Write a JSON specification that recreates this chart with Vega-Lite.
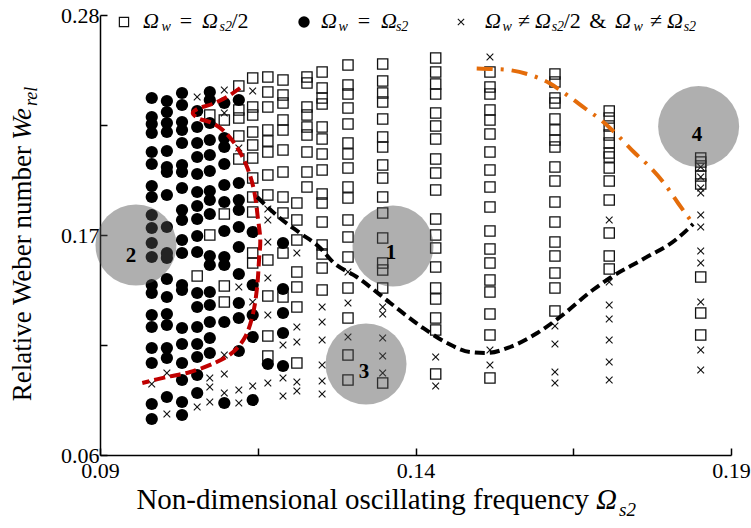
{
"$schema":"https://vega.github.io/schema/vega-lite/v6.json",
"width":631,"height":440,
"autosize":"none",
"padding":{"left":100,"top":15,"right":20,"bottom":73},
"background":"white",
"config":{"view":{"stroke":null},"font":"Liberation Serif"},
"datasets":{
"pts":[
{"x":0.0982,"y":0.2385,"t":"c"},{"x":0.0982,"y":0.229,"t":"c"},{"x":0.0982,"y":0.2255,"t":"c"},{"x":0.0982,"y":0.221,"t":"c"},{"x":0.0982,"y":0.2115,"t":"c"},{"x":0.0982,"y":0.2055,"t":"c"},{"x":0.0982,"y":0.1945,"t":"c"},{"x":0.0982,"y":0.189,"t":"c"},{"x":0.0982,"y":0.18,"t":"c"},{"x":0.0982,"y":0.1735,"t":"c"},{"x":0.0982,"y":0.166,"t":"c"},{"x":0.0982,"y":0.159,"t":"c"},{"x":0.0982,"y":0.145,"t":"c"},{"x":0.0982,"y":0.141,"t":"c"},{"x":0.0982,"y":0.13,"t":"c"},{"x":0.0982,"y":0.124,"t":"c"},{"x":0.0982,"y":0.1135,"t":"c"},{"x":0.0982,"y":0.106,"t":"c"},{"x":0.0982,"y":0.0855,"t":"c"},{"x":0.0982,"y":0.078,"t":"c"},{"x":0.0982,"y":0.0955,"t":"x"},
{"x":0.1006,"y":0.237,"t":"c"},{"x":0.1006,"y":0.2315,"t":"c"},{"x":0.1006,"y":0.226,"t":"c"},{"x":0.1006,"y":0.2215,"t":"c"},{"x":0.1006,"y":0.212,"t":"c"},{"x":0.1006,"y":0.204,"t":"c"},{"x":0.1006,"y":0.2015,"t":"c"},{"x":0.1006,"y":0.19,"t":"c"},{"x":0.1006,"y":0.174,"t":"c"},{"x":0.1006,"y":0.161,"t":"c"},{"x":0.1006,"y":0.1585,"t":"c"},{"x":0.1006,"y":0.148,"t":"c"},{"x":0.1006,"y":0.139,"t":"c"},{"x":0.1006,"y":0.1305,"t":"c"},{"x":0.1006,"y":0.125,"t":"c"},{"x":0.1006,"y":0.1135,"t":"c"},{"x":0.1006,"y":0.1085,"t":"c"},{"x":0.1006,"y":0.089,"t":"c"},{"x":0.1006,"y":0.101,"t":"x"},{"x":0.1006,"y":0.0805,"t":"x"},
{"x":0.103,"y":0.241,"t":"c"},{"x":0.103,"y":0.235,"t":"c"},{"x":0.103,"y":0.2265,"t":"c"},{"x":0.103,"y":0.2225,"t":"c"},{"x":0.103,"y":0.216,"t":"c"},{"x":0.103,"y":0.205,"t":"c"},{"x":0.103,"y":0.2015,"t":"c"},{"x":0.103,"y":0.1935,"t":"c"},{"x":0.103,"y":0.1825,"t":"c"},{"x":0.103,"y":0.1775,"t":"c"},{"x":0.103,"y":0.1675,"t":"c"},{"x":0.103,"y":0.161,"t":"c"},{"x":0.103,"y":0.145,"t":"c"},{"x":0.103,"y":0.1425,"t":"c"},{"x":0.103,"y":0.1235,"t":"c"},{"x":0.103,"y":0.1155,"t":"c"},{"x":0.103,"y":0.106,"t":"c"},{"x":0.103,"y":0.0975,"t":"c"},{"x":0.103,"y":0.0865,"t":"c"},{"x":0.103,"y":0.08,"t":"c"},
{"x":0.1054,"y":0.232,"t":"c"},{"x":0.1054,"y":0.224,"t":"c"},{"x":0.1054,"y":0.216,"t":"c"},{"x":0.1054,"y":0.209,"t":"c"},{"x":0.1054,"y":0.2005,"t":"c"},{"x":0.1054,"y":0.1915,"t":"c"},{"x":0.1054,"y":0.1845,"t":"c"},{"x":0.1054,"y":0.178,"t":"c"},{"x":0.1054,"y":0.1695,"t":"c"},{"x":0.1054,"y":0.1615,"t":"c"},{"x":0.1054,"y":0.141,"t":"c"},{"x":0.1054,"y":0.134,"t":"c"},{"x":0.1054,"y":0.124,"t":"c"},{"x":0.1054,"y":0.1155,"t":"c"},{"x":0.1054,"y":0.109,"t":"c"},{"x":0.1054,"y":0.1,"t":"c"},{"x":0.1054,"y":0.091,"t":"c"},{"x":0.1054,"y":0.1495,"t":"s"},{"x":0.1054,"y":0.084,"t":"x"},{"x":0.1054,"y":0.239,"t":"x"},
{"x":0.1074,"y":0.2415,"t":"c"},{"x":0.1074,"y":0.2375,"t":"c"},{"x":0.1074,"y":0.226,"t":"c"},{"x":0.1074,"y":0.2175,"t":"c"},{"x":0.1074,"y":0.21,"t":"c"},{"x":0.1074,"y":0.202,"t":"c"},{"x":0.1074,"y":0.192,"t":"c"},{"x":0.1074,"y":0.1875,"t":"c"},{"x":0.1074,"y":0.1805,"t":"c"},{"x":0.1074,"y":0.1595,"t":"c"},{"x":0.1074,"y":0.155,"t":"c"},{"x":0.1074,"y":0.1415,"t":"c"},{"x":0.1074,"y":0.135,"t":"c"},{"x":0.1074,"y":0.1265,"t":"c"},{"x":0.1074,"y":0.1185,"t":"c"},{"x":0.1074,"y":0.111,"t":"c"},{"x":0.1074,"y":0.23,"t":"s"},{"x":0.1074,"y":0.17,"t":"s"},{"x":0.1074,"y":0.0985,"t":"x"},{"x":0.1074,"y":0.094,"t":"x"},{"x":0.1074,"y":0.0865,"t":"x"},
{"x":0.1097,"y":0.236,"t":"c"},{"x":0.1097,"y":0.2185,"t":"c"},{"x":0.1097,"y":0.214,"t":"c"},{"x":0.1097,"y":0.2055,"t":"c"},{"x":0.1097,"y":0.195,"t":"c"},{"x":0.1097,"y":0.1865,"t":"c"},{"x":0.1097,"y":0.172,"t":"c"},{"x":0.1097,"y":0.159,"t":"c"},{"x":0.1097,"y":0.155,"t":"c"},{"x":0.1097,"y":0.1265,"t":"c"},{"x":0.1097,"y":0.086,"t":"c"},{"x":0.1097,"y":0.2275,"t":"s"},{"x":0.1097,"y":0.1805,"t":"s"},{"x":0.1097,"y":0.1445,"t":"s"},{"x":0.1097,"y":0.1365,"t":"s"},{"x":0.1097,"y":0.2425,"t":"x"},{"x":0.1097,"y":0.231,"t":"x"},{"x":0.1097,"y":0.11,"t":"x"},{"x":0.1097,"y":0.1005,"t":"x"},{"x":0.1097,"y":0.091,"t":"x"},
{"x":0.112,"y":0.2375,"t":"c"},{"x":0.112,"y":0.196,"t":"c"},{"x":0.112,"y":0.1875,"t":"c"},{"x":0.112,"y":0.1825,"t":"c"},{"x":0.112,"y":0.174,"t":"c"},{"x":0.112,"y":0.164,"t":"c"},{"x":0.112,"y":0.1505,"t":"c"},{"x":0.112,"y":0.136,"t":"c"},{"x":0.112,"y":0.1285,"t":"c"},{"x":0.112,"y":0.112,"t":"c"},{"x":0.112,"y":0.2445,"t":"s"},{"x":0.112,"y":0.2325,"t":"s"},{"x":0.112,"y":0.2285,"t":"s"},{"x":0.112,"y":0.2195,"t":"s"},{"x":0.112,"y":0.208,"t":"s"},{"x":0.112,"y":0.2135,"t":"x"},{"x":0.112,"y":0.144,"t":"x"},{"x":0.112,"y":0.0925,"t":"x"},{"x":0.112,"y":0.086,"t":"x"},
{"x":0.1142,"y":0.2485,"t":"s"},{"x":0.1142,"y":0.234,"t":"s"},{"x":0.1142,"y":0.23,"t":"s"},{"x":0.1142,"y":0.2215,"t":"s"},{"x":0.1142,"y":0.215,"t":"s"},{"x":0.1142,"y":0.2085,"t":"s"},{"x":0.1142,"y":0.1985,"t":"s"},{"x":0.1142,"y":0.189,"t":"s"},{"x":0.1142,"y":0.1815,"t":"s"},{"x":0.1142,"y":0.161,"t":"s"},{"x":0.1142,"y":0.156,"t":"s"},{"x":0.1142,"y":0.242,"t":"x"},{"x":0.1142,"y":0.1365,"t":"x"},{"x":0.1142,"y":0.0945,"t":"x"},{"x":0.1142,"y":0.1715,"t":"c"},{"x":0.1142,"y":0.145,"t":"c"},{"x":0.1142,"y":0.13,"t":"c"},{"x":0.1142,"y":0.119,"t":"c"},{"x":0.1142,"y":0.0875,"t":"c"},
{"x":0.1166,"y":0.249,"t":"s"},{"x":0.1166,"y":0.2415,"t":"s"},{"x":0.1166,"y":0.234,"t":"s"},{"x":0.1166,"y":0.2225,"t":"s"},{"x":0.1166,"y":0.217,"t":"s"},{"x":0.1166,"y":0.2115,"t":"s"},{"x":0.1166,"y":0.2,"t":"s"},{"x":0.1166,"y":0.19,"t":"s"},{"x":0.1166,"y":0.1575,"t":"s"},{"x":0.1166,"y":0.1395,"t":"s"},{"x":0.1166,"y":0.1195,"t":"s"},{"x":0.1166,"y":0.1095,"t":"s"},{"x":0.1166,"y":0.183,"t":"x"},{"x":0.1166,"y":0.1775,"t":"x"},{"x":0.1166,"y":0.1665,"t":"x"},{"x":0.1166,"y":0.1485,"t":"x"},{"x":0.1166,"y":0.13,"t":"x"},{"x":0.1166,"y":0.096,"t":"x"},{"x":0.1166,"y":0.1055,"t":"c"},
{"x":0.119,"y":0.2475,"t":"s"},{"x":0.119,"y":0.24,"t":"s"},{"x":0.119,"y":0.236,"t":"s"},{"x":0.119,"y":0.2275,"t":"s"},{"x":0.119,"y":0.2225,"t":"s"},{"x":0.119,"y":0.2125,"t":"s"},{"x":0.119,"y":0.2015,"t":"s"},{"x":0.119,"y":0.189,"t":"s"},{"x":0.119,"y":0.181,"t":"s"},{"x":0.119,"y":0.161,"t":"s"},{"x":0.119,"y":0.139,"t":"s"},{"x":0.119,"y":0.166,"t":"c"},{"x":0.119,"y":0.143,"t":"c"},{"x":0.119,"y":0.131,"t":"c"},{"x":0.119,"y":0.121,"t":"c"},{"x":0.119,"y":0.1045,"t":"c"},{"x":0.119,"y":0.115,"t":"x"},{"x":0.119,"y":0.0985,"t":"x"},{"x":0.119,"y":0.0895,"t":"x"},
{"x":0.1212,"y":0.186,"t":"s"},{"x":0.1212,"y":0.1775,"t":"s"},{"x":0.1212,"y":0.1675,"t":"s"},{"x":0.1212,"y":0.1515,"t":"s"},{"x":0.1212,"y":0.144,"t":"s"},{"x":0.1212,"y":0.134,"t":"s"},{"x":0.1212,"y":0.106,"t":"s"},{"x":0.1212,"y":0.161,"t":"x"},{"x":0.1212,"y":0.124,"t":"x"},{"x":0.1212,"y":0.1165,"t":"x"},{"x":0.1212,"y":0.0965,"t":"x"},{"x":0.1212,"y":0.092,"t":"x"},
{"x":0.1228,"y":0.249,"t":"s"},{"x":0.1228,"y":0.246,"t":"s"},{"x":0.1228,"y":0.234,"t":"s"},{"x":0.1228,"y":0.23,"t":"s"},{"x":0.1228,"y":0.224,"t":"s"},{"x":0.1228,"y":0.22,"t":"s"},{"x":0.1228,"y":0.2115,"t":"s"},{"x":0.1228,"y":0.2015,"t":"s"},{"x":0.1228,"y":0.194,"t":"s"},
{"x":0.1252,"y":0.2515,"t":"s"},{"x":0.1252,"y":0.2435,"t":"s"},{"x":0.1252,"y":0.2385,"t":"s"},{"x":0.1252,"y":0.2355,"t":"s"},{"x":0.1252,"y":0.224,"t":"s"},{"x":0.1252,"y":0.218,"t":"s"},{"x":0.1252,"y":0.2105,"t":"s"},{"x":0.1252,"y":0.2025,"t":"s"},{"x":0.1252,"y":0.1905,"t":"s"},{"x":0.1252,"y":0.186,"t":"s"},{"x":0.1252,"y":0.1765,"t":"s"},{"x":0.1252,"y":0.165,"t":"s"},{"x":0.1252,"y":0.1605,"t":"s"},{"x":0.1252,"y":0.1535,"t":"s"},{"x":0.1252,"y":0.1425,"t":"s"},{"x":0.1252,"y":0.134,"t":"x"},{"x":0.1252,"y":0.1265,"t":"x"},{"x":0.1252,"y":0.1175,"t":"x"},{"x":0.1252,"y":0.105,"t":"x"},{"x":0.1252,"y":0.097,"t":"x"},{"x":0.1252,"y":0.0905,"t":"x"},
{"x":0.1293,"y":0.255,"t":"s"},{"x":0.1293,"y":0.245,"t":"s"},{"x":0.1293,"y":0.2405,"t":"s"},{"x":0.1293,"y":0.2335,"t":"s"},{"x":0.1293,"y":0.2255,"t":"s"},{"x":0.1293,"y":0.216,"t":"s"},{"x":0.1293,"y":0.2105,"t":"s"},{"x":0.1293,"y":0.2035,"t":"s"},{"x":0.1293,"y":0.194,"t":"s"},{"x":0.1293,"y":0.1885,"t":"s"},{"x":0.1293,"y":0.1775,"t":"s"},{"x":0.1293,"y":0.169,"t":"s"},{"x":0.1293,"y":0.159,"t":"s"},{"x":0.1293,"y":0.1435,"t":"s"},{"x":0.1293,"y":0.1285,"t":"s"},{"x":0.1293,"y":0.11,"t":"s"},{"x":0.1293,"y":0.0975,"t":"s"},{"x":0.1293,"y":0.1515,"t":"x"},{"x":0.1293,"y":0.136,"t":"x"},{"x":0.1293,"y":0.119,"t":"x"},
{"x":0.1348,"y":0.2555,"t":"s"},{"x":0.1348,"y":0.247,"t":"s"},{"x":0.1348,"y":0.241,"t":"s"},{"x":0.1348,"y":0.2365,"t":"s"},{"x":0.1348,"y":0.228,"t":"s"},{"x":0.1348,"y":0.219,"t":"s"},{"x":0.1348,"y":0.214,"t":"s"},{"x":0.1348,"y":0.205,"t":"s"},{"x":0.1348,"y":0.1985,"t":"s"},{"x":0.1348,"y":0.189,"t":"s"},{"x":0.1348,"y":0.181,"t":"s"},{"x":0.1348,"y":0.1685,"t":"s"},{"x":0.1348,"y":0.156,"t":"s"},{"x":0.1348,"y":0.1525,"t":"s"},{"x":0.1348,"y":0.1435,"t":"s"},{"x":0.1348,"y":0.096,"t":"s"},{"x":0.1348,"y":0.134,"t":"x"},{"x":0.1348,"y":0.1305,"t":"x"},{"x":0.1348,"y":0.1185,"t":"x"},{"x":0.1348,"y":0.1095,"t":"x"},{"x":0.1348,"y":0.101,"t":"x"},
{"x":0.1432,"y":0.2585,"t":"s"},{"x":0.1432,"y":0.2515,"t":"s"},{"x":0.1432,"y":0.2455,"t":"s"},{"x":0.1432,"y":0.2405,"t":"s"},{"x":0.1432,"y":0.231,"t":"s"},{"x":0.1432,"y":0.2245,"t":"s"},{"x":0.1432,"y":0.218,"t":"s"},{"x":0.1432,"y":0.208,"t":"s"},{"x":0.1432,"y":0.201,"t":"s"},{"x":0.1432,"y":0.1925,"t":"s"},{"x":0.1432,"y":0.178,"t":"s"},{"x":0.1432,"y":0.17,"t":"s"},{"x":0.1432,"y":0.1635,"t":"s"},{"x":0.1432,"y":0.154,"t":"s"},{"x":0.1432,"y":0.1435,"t":"s"},{"x":0.1432,"y":0.138,"t":"s"},{"x":0.1432,"y":0.1285,"t":"s"},{"x":0.1432,"y":0.1225,"t":"s"},{"x":0.1432,"y":0.1005,"t":"s"},{"x":0.1432,"y":0.109,"t":"x"},{"x":0.1432,"y":0.0945,"t":"x"},
{"x":0.1518,"y":0.2515,"t":"s"},{"x":0.1518,"y":0.244,"t":"s"},{"x":0.1518,"y":0.2405,"t":"s"},{"x":0.1518,"y":0.2325,"t":"s"},{"x":0.1518,"y":0.2275,"t":"s"},{"x":0.1518,"y":0.2205,"t":"s"},{"x":0.1518,"y":0.2115,"t":"s"},{"x":0.1518,"y":0.2025,"t":"s"},{"x":0.1518,"y":0.194,"t":"s"},{"x":0.1518,"y":0.184,"t":"s"},{"x":0.1518,"y":0.172,"t":"s"},{"x":0.1518,"y":0.163,"t":"s"},{"x":0.1518,"y":0.156,"t":"s"},{"x":0.1518,"y":0.1475,"t":"s"},{"x":0.1518,"y":0.1415,"t":"s"},{"x":0.1518,"y":0.1305,"t":"s"},{"x":0.1518,"y":0.12,"t":"s"},{"x":0.1518,"y":0.0985,"t":"s"},{"x":0.1518,"y":0.259,"t":"x"},{"x":0.1518,"y":0.1125,"t":"x"},{"x":0.1518,"y":0.105,"t":"x"},
{"x":0.1621,"y":0.2505,"t":"s"},{"x":0.1621,"y":0.2465,"t":"s"},{"x":0.1621,"y":0.2385,"t":"s"},{"x":0.1621,"y":0.236,"t":"s"},{"x":0.1621,"y":0.228,"t":"s"},{"x":0.1621,"y":0.2225,"t":"s"},{"x":0.1621,"y":0.2175,"t":"s"},{"x":0.1621,"y":0.214,"t":"s"},{"x":0.1621,"y":0.204,"t":"s"},{"x":0.1621,"y":0.197,"t":"s"},{"x":0.1621,"y":0.1865,"t":"s"},{"x":0.1621,"y":0.1765,"t":"s"},{"x":0.1621,"y":0.1665,"t":"s"},{"x":0.1621,"y":0.1595,"t":"s"},{"x":0.1621,"y":0.151,"t":"s"},{"x":0.1621,"y":0.1435,"t":"s"},{"x":0.1621,"y":0.132,"t":"s"},{"x":0.1621,"y":0.1245,"t":"x"},{"x":0.1621,"y":0.1155,"t":"x"},{"x":0.1621,"y":0.1015,"t":"x"},{"x":0.1621,"y":0.096,"t":"x"},
{"x":0.1707,"y":0.232,"t":"s"},{"x":0.1707,"y":0.2285,"t":"s"},{"x":0.1707,"y":0.2245,"t":"s"},{"x":0.1707,"y":0.22,"t":"s"},{"x":0.1707,"y":0.216,"t":"s"},{"x":0.1707,"y":0.211,"t":"s"},{"x":0.1707,"y":0.209,"t":"s"},{"x":0.1707,"y":0.2035,"t":"s"},{"x":0.1707,"y":0.197,"t":"s"},{"x":0.1707,"y":0.1875,"t":"s"},{"x":0.1707,"y":0.171,"t":"s"},{"x":0.1707,"y":0.1595,"t":"s"},{"x":0.1707,"y":0.153,"t":"s"},{"x":0.1707,"y":0.1775,"t":"x"},{"x":0.1707,"y":0.1465,"t":"x"},{"x":0.1707,"y":0.135,"t":"x"},{"x":0.1707,"y":0.128,"t":"x"},{"x":0.1707,"y":0.1175,"t":"x"},{"x":0.1707,"y":0.1065,"t":"x"},{"x":0.1707,"y":0.0975,"t":"x"},
{"x":0.1852,"y":0.2085,"t":"s"},{"x":0.1852,"y":0.2065,"t":"s"},{"x":0.1852,"y":0.2045,"t":"s"},{"x":0.1852,"y":0.1995,"t":"s"},{"x":0.1852,"y":0.1955,"t":"s"},{"x":0.1852,"y":0.149,"t":"s"},{"x":0.1852,"y":0.131,"t":"s"},{"x":0.1852,"y":0.12,"t":"s"},{"x":0.1852,"y":0.204,"t":"x"},{"x":0.1852,"y":0.199,"t":"x"},{"x":0.1852,"y":0.1935,"t":"x"},{"x":0.1852,"y":0.191,"t":"x"},{"x":0.1852,"y":0.18,"t":"x"},{"x":0.1852,"y":0.174,"t":"x"},{"x":0.1852,"y":0.162,"t":"x"},{"x":0.1852,"y":0.156,"t":"x"},{"x":0.1852,"y":0.1365,"t":"x"},{"x":0.1852,"y":0.1125,"t":"x"},{"x":0.1852,"y":0.1025,"t":"x"}
],
"red":[
{"o":1,"x":0.1122,"y":0.2435},{"o":2,"x":0.1101,"y":0.239},{"o":3,"x":0.1078,"y":0.2355},{"o":4,"x":0.1054,"y":0.233},{"o":5,"x":0.1047,"y":0.231},{"o":6,"x":0.1055,"y":0.2285},{"o":7,"x":0.1078,"y":0.226},{"o":8,"x":0.1098,"y":0.2215},{"o":9,"x":0.1117,"y":0.214},{"o":10,"x":0.1133,"y":0.204},{"o":11,"x":0.1144,"y":0.1925},{"o":12,"x":0.115,"y":0.179},{"o":13,"x":0.1154,"y":0.1675},{"o":14,"x":0.1152,"y":0.1575},{"o":15,"x":0.1149,"y":0.144},{"o":16,"x":0.1142,"y":0.13},{"o":17,"x":0.113,"y":0.119},{"o":18,"x":0.1111,"y":0.1115},{"o":19,"x":0.1085,"y":0.1065},{"o":20,"x":0.1043,"y":0.1015},{"o":21,"x":0.1006,"y":0.099},{"o":22,"x":0.0967,"y":0.096}
],
"blk":[
{"x":0.1149,"y":0.189},{"x":0.1185,"y":0.1785},{"x":0.1217,"y":0.171},{"x":0.1249,"y":0.1635},{"x":0.1269,"y":0.1565},{"x":0.1307,"y":0.149},{"x":0.136,"y":0.136},{"x":0.1412,"y":0.1235},{"x":0.145,"y":0.116},{"x":0.1486,"y":0.1115},{"x":0.1513,"y":0.111},{"x":0.155,"y":0.114},{"x":0.1593,"y":0.121},{"x":0.1629,"y":0.129},{"x":0.1681,"y":0.1425},{"x":0.1708,"y":0.1485},{"x":0.1761,"y":0.158},{"x":0.1814,"y":0.168},{"x":0.184,"y":0.1755}
],
"org":[
{"x":0.1497,"y":0.2533},{"x":0.1524,"y":0.253},{"x":0.1548,"y":0.2525},{"x":0.1577,"y":0.2505},{"x":0.1612,"y":0.246},{"x":0.164,"y":0.24},{"x":0.167,"y":0.233},{"x":0.1694,"y":0.2275},{"x":0.1723,"y":0.219},{"x":0.1746,"y":0.2115},{"x":0.1773,"y":0.2035},{"x":0.1795,"y":0.1955},{"x":0.1816,"y":0.186},{"x":0.1838,"y":0.1765}
],
"ann":[
{"x":0.0957,"y":0.165,"s":"2","lx":0.09491,"ly":0.1595},{"x":0.13643,"y":0.1645,"s":"1","lx":0.13612,"ly":0.161},{"x":0.13216,"y":0.1055,"s":"3","lx":0.13184,"ly":0.1015},{"x":0.18487,"y":0.2242,"s":"4","lx":0.18461,"ly":0.22}
],
"leg":[
{"x":0.0938,"y":0.2765,"t":"s"},{"x":0.12233,"y":0.2765,"t":"c"},{"x":0.14721,"y":0.2765,"t":"x"}
],
"lt":[
{"x":0.09808,"y":0.277,"s":"Ω","k":"i"},{"x":0.10743,"y":0.277,"s":"Ω","k":"i"},{"x":0.12629,"y":0.277,"s":"Ω","k":"i"},{"x":0.1358,"y":0.277,"s":"Ω","k":"i"},{"x":0.15228,"y":0.277,"s":"Ω","k":"i"},{"x":0.16021,"y":0.277,"s":"Ω","k":"i"},{"x":0.17288,"y":0.277,"s":"Ω","k":"i"},{"x":0.18113,"y":0.277,"s":"Ω","k":"i"},
{"x":0.10048,"y":0.274,"s":"w","k":"b"},{"x":0.10994,"y":0.274,"s":"s2","k":"b"},{"x":0.12853,"y":0.274,"s":"w","k":"b"},{"x":0.13788,"y":0.274,"s":"s2","k":"b"},{"x":0.15452,"y":0.274,"s":"w","k":"b"},{"x":0.16256,"y":0.274,"s":"s2","k":"b"},{"x":0.17528,"y":0.274,"s":"w","k":"b"},{"x":0.18348,"y":0.274,"s":"s2","k":"b"},
{"x":0.10363,"y":0.277,"s":"=","k":"u"},{"x":0.11218,"y":0.277,"s":"/2","k":"u"},{"x":0.13184,"y":0.277,"s":"=","k":"u"},{"x":0.1572,"y":0.277,"s":"≠","k":"u"},{"x":0.16484,"y":0.277,"s":"/2","k":"u"},{"x":0.16888,"y":0.277,"s":"&","k":"u"},{"x":0.17811,"y":0.277,"s":"≠","k":"u"}
],
"tt":[
{"x":0.1675,"y":0.033,"s":"Non-dimensional oscillating frequency","k":"xm"},
{"x":0.16861,"y":0.033,"s":"Ω","k":"xi"},
{"x":0.17225,"y":0.0295,"s":"s2","k":"xs"},
{"x":0.07907,"y":0.2145,"s":"Relative Weber number","k":"ym"},
{"x":0.07907,"y":0.2175,"s":"We","k":"yi"},
{"x":0.080016,"y":0.2345,"s":"rel","k":"ys"}
]
},
"encoding":{
"x":{"field":"x","type":"quantitative","scale":{"domain":[0.09,0.19],"nice":false,"zero":false},
"axis":{"title":null,"values":[0.09,0.115,0.14,0.165,0.19],"labelExpr":"abs(datum.value-0.115)<0.001||abs(datum.value-0.165)<0.001?'':format(datum.value,'.2f')","grid":false,"domainColor":"#000","domainWidth":1.5,"tickColor":"#000","tickWidth":1.5,"tickSize":-7,"labelFont":"Liberation Serif","labelFontSize":22,"labelColor":"#000","labelPadding":12,"labelFlush":false,"labelOverlap":false}},
"y":{"field":"y","type":"quantitative","scale":{"domain":[0.06,0.28],"nice":false,"zero":false},
"axis":{"title":null,"values":[0.06,0.115,0.17,0.225,0.28],"labelExpr":"abs(datum.value-0.115)<0.001||abs(datum.value-0.225)<0.001?'':format(datum.value,'.2f')","grid":false,"domainColor":"#000","domainWidth":1.5,"tickColor":"#000","tickWidth":1.5,"tickSize":-7,"labelFont":"Liberation Serif","labelFontSize":22,"labelColor":"#000","labelPadding":8,"labelFlush":false,"labelOverlap":false}}
},
"layer":[
{"data":{"name":"pts"},"transform":[{"filter":"datum.t=='s'"}],"mark":{"type":"point","shape":"square","filled":false,"stroke":"#111","strokeWidth":1.3,"size":105,"opacity":1}},
{"data":{"name":"pts"},"transform":[{"filter":"datum.t=='x'"}],"mark":{"type":"point","shape":"M-1,-1L1,1M-1,1L1,-1","filled":false,"stroke":"#111","strokeWidth":1.1,"size":45,"opacity":1}},
{"data":{"name":"pts"},"transform":[{"filter":"datum.t=='c'"}],"mark":{"type":"point","shape":"circle","filled":true,"color":"#000","size":150,"opacity":1}},
{"data":{"name":"red"},"mark":{"type":"line","color":"#c00000","strokeWidth":4,"strokeDash":[11,5],"interpolate":"catmull-rom"},"encoding":{"order":{"field":"o","type":"quantitative"}}},
{"data":{"name":"blk"},"mark":{"type":"line","color":"#000","strokeWidth":4,"strokeDash":[10,5],"interpolate":"monotone"},"encoding":{}},
{"data":{"name":"org"},"mark":{"type":"line","color":"#e46c0a","strokeWidth":4,"strokeDash":[16,8,3,8],"interpolate":"monotone"},"encoding":{}},
{"data":{"name":"ann"},"mark":{"type":"point","shape":"circle","filled":true,"color":"#4d4d4d","opacity":0.45,"size":6561,"strokeWidth":0}},
{"data":{"name":"ann"},"mark":{"type":"text","font":"Liberation Serif","fontWeight":"bold","fontSize":21,"color":"#000","align":"center","baseline":"middle"},"encoding":{"x":{"field":"lx","type":"quantitative"},"y":{"field":"ly","type":"quantitative"},"text":{"field":"s"}}},
{"data":{"name":"leg"},"transform":[{"filter":"datum.t=='s'"}],"mark":{"type":"point","shape":"square","filled":false,"stroke":"#111","strokeWidth":1.2,"size":85,"opacity":1}},
{"data":{"name":"leg"},"transform":[{"filter":"datum.t=='c'"}],"mark":{"type":"point","shape":"circle","filled":true,"color":"#000","size":130,"opacity":1}},
{"data":{"name":"leg"},"transform":[{"filter":"datum.t=='x'"}],"mark":{"type":"point","shape":"M-1,-1L1,1M-1,1L1,-1","filled":false,"stroke":"#111","strokeWidth":1.1,"size":40,"opacity":1}},
{"data":{"name":"lt"},"transform":[{"filter":"datum.k=='i'"}],"mark":{"type":"text","font":"Liberation Serif","fontStyle":"italic","fontSize":22,"color":"#000","align":"center","baseline":"middle"},"encoding":{"text":{"field":"s"}}},
{"data":{"name":"lt"},"transform":[{"filter":"datum.k=='b'"}],"mark":{"type":"text","font":"Liberation Serif","fontStyle":"italic","fontSize":14,"color":"#000","align":"center","baseline":"middle"},"encoding":{"text":{"field":"s"}}},
{"data":{"name":"lt"},"transform":[{"filter":"datum.k=='u'"}],"mark":{"type":"text","font":"Liberation Serif","fontSize":22,"color":"#000","align":"center","baseline":"middle"},"encoding":{"text":{"field":"s"}}},
{"data":{"name":"tt"},"transform":[{"filter":"datum.k=='xm'"}],"mark":{"type":"text","font":"Liberation Serif","fontSize":29,"color":"#000","align":"right","baseline":"alphabetic"},"encoding":{"text":{"field":"s"}}},
{"data":{"name":"tt"},"transform":[{"filter":"datum.k=='xi'"}],"mark":{"type":"text","font":"Liberation Serif","fontStyle":"italic","fontSize":29,"color":"#000","align":"left","baseline":"alphabetic"},"encoding":{"text":{"field":"s"}}},
{"data":{"name":"tt"},"transform":[{"filter":"datum.k=='xs'"}],"mark":{"type":"text","font":"Liberation Serif","fontStyle":"italic","fontSize":19,"color":"#000","align":"left","baseline":"alphabetic"},"encoding":{"text":{"field":"s"}}},
{"data":{"name":"tt"},"transform":[{"filter":"datum.k=='ym'"}],"mark":{"type":"text","font":"Liberation Serif","fontSize":27,"color":"#000","align":"right","baseline":"alphabetic","angle":270},"encoding":{"text":{"field":"s"}}},
{"data":{"name":"tt"},"transform":[{"filter":"datum.k=='yi'"}],"mark":{"type":"text","font":"Liberation Serif","fontStyle":"italic","fontSize":27,"color":"#000","align":"left","baseline":"alphabetic","angle":270},"encoding":{"text":{"field":"s"}}},
{"data":{"name":"tt"},"transform":[{"filter":"datum.k=='ys'"}],"mark":{"type":"text","font":"Liberation Serif","fontStyle":"italic","fontSize":18,"color":"#000","align":"left","baseline":"alphabetic","angle":270},"encoding":{"text":{"field":"s"}}}
]
}
